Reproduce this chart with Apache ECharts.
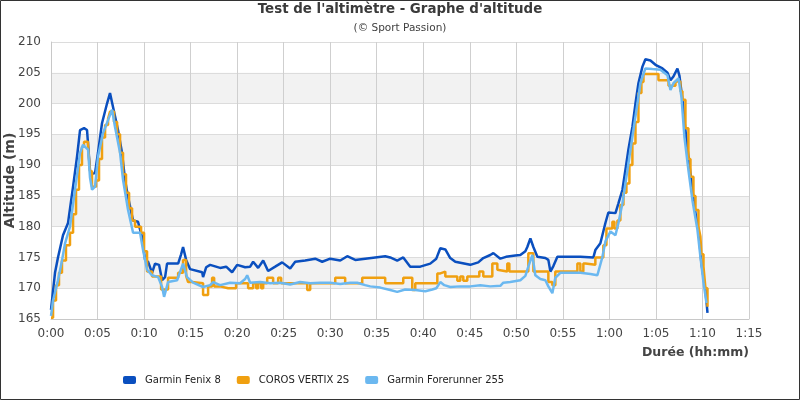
<!DOCTYPE html>
<html><head><meta charset="utf-8">
<script src="https://cdn.jsdelivr.net/npm/echarts@6/dist/echarts.min.js"></script>
<style>html,body{margin:0;padding:0;background:#fff}#c{width:800px;height:400px}</style>
</head><body><div id="c"></div>
<script>
const FONT = "'DejaVu Sans',sans-serif";
const seriesNames = ['Garmin Fenix 8', 'COROS VERTIX 2S', 'Garmin Forerunner 255'];
const seriesColors = ['#0a4fbf', '#f0a010', '#6bb8f0'];

// time in minutes
const fenixT = [0.00,0.43,0.75,1.29,1.83,2.37,2.80,3.12,3.55,3.87,4.19,4.41,4.73,5.05,5.48,6.02,6.34,6.67,7.20,7.63,7.96,8.28,8.82,9.35,9.78,10.11,10.43,10.86,11.18,11.61,11.94,12.26,12.47,13.66,13.98,14.19,14.52,14.95,16.24,16.34,16.67,17.10,18.17,18.82,19.46,20.00,20.86,21.40,21.72,22.26,22.80,23.33,24.09,24.84,25.70,26.24,27.31,28.39,29.14,30.00,31.08,31.83,32.69,33.76,34.84,35.91,36.45,37.20,37.85,38.60,39.68,40.75,41.40,41.83,42.37,42.90,43.44,45.05,45.91,46.45,47.20,47.53,48.28,48.89,49.89,50.43,50.97,51.18,51.51,51.83,52.26,53.12,53.44,53.66,53.98,54.41,55.81,56.88,58.28,58.49,59.03,59.57,59.89,60.65,60.97,61.40,61.72,62.04,62.47,62.80,63.12,63.55,63.87,64.41,64.95,65.70,66.24,66.56,66.88,67.31,67.53,67.85,68.17,68.49,68.92,69.25,69.57,69.89,70.32,70.54];
const fenixV = [166.5,172.5,175,178.6,180.6,186.5,191.4,195.7,196,195.7,189.2,188.6,188.7,192,196.8,200,201.7,199.4,195.7,192,187.6,184.8,181,180.8,178.3,174.6,174.3,172.5,174,173.8,171.3,171.8,174,174,175.5,176.7,174.6,173.1,172.6,171.8,173.4,173.8,173.3,173.5,172.6,173.8,173.4,173.5,174.3,173.3,174.5,172.8,173.5,174.2,173.2,174.3,174.5,174.8,174.3,174.8,174.5,175.2,174.6,174.8,175,175.2,175,174.5,175,173.5,173.5,174,174.8,176.5,176.3,174.9,174.3,173.8,174.2,174.9,175.4,175.7,174.8,175.1,175.3,175.4,176,176.7,178.1,176.7,175.1,174.9,174.6,172.7,173.6,175.1,175.1,175.1,175,176.2,177.3,180.6,182.3,182.2,183.8,186,189.2,192.5,196.2,200,203.3,206,207.2,207,206.3,205.7,205,203.8,204.4,205.7,204.5,200.6,195.7,191.4,186,182.2,179.5,174,169.7,166];

const corosT = [0.00,0.22,0.54,0.86,1.18,1.61,2.04,2.37,2.69,3.01,3.33,3.55,3.98,4.19,4.41,4.84,5.16,5.48,5.81,6.13,6.34,6.77,7.10,7.42,7.74,8.06,8.39,8.71,9.03,9.68,10.00,10.32,10.86,11.83,12.58,13.66,14.19,14.52,14.73,15.16,16.34,16.88,17.31,17.53,18.17,19.03,19.89,21.18,21.72,22.04,22.26,22.58,22.80,23.23,23.87,24.41,24.73,25.70,27.53,27.85,30.54,31.61,33.44,35.91,37.85,38.82,39.14,41.51,41.83,42.37,43.66,43.98,44.30,44.73,46.02,46.45,47.42,47.96,48.06,49.03,49.25,51.29,51.83,53.44,53.87,54.19,56.56,56.88,57.20,57.42,58.49,59.35,59.68,60.32,60.54,60.86,61.18,61.51,61.83,62.15,62.47,62.80,63.12,63.44,63.66,65.27,66.35,67.10,67.63,67.85,68.17,68.49,68.71,69.03,69.25,69.57,69.78,69.89,70.11,70.32,70.54];
const corosV = [165.2,168,170.5,172.5,174.5,177,179,182,186,190,193,193.8,193,189,186.5,187.5,191,194.5,196.5,197.5,198.7,197,195,192,188.5,185.5,183,181,180,179,176,172.7,171.9,169.8,171.7,172.5,174.6,172,171,170.8,168.9,170.3,171.7,170.3,170,170,170.8,170,170.8,170,170.8,170,170.8,171.7,170.8,171.7,170.8,170.8,169.7,170.8,171.7,170.8,171.7,170.8,171.7,169.7,170.8,172.4,172.7,171.9,171.2,171.9,171.2,171.9,172.7,171.9,174,173,172.7,174,172.7,175.7,172.7,171,170.5,172.7,174,172.7,174,173.8,175,177,179.7,180.8,179.7,181,183.5,185.5,187,190,193.5,197,201.7,203.5,204.8,203.8,202.9,203.6,202,200.6,196,191,188.1,185,182.7,180,178.4,175.5,173.5,170,167];

const foreT = [0.00,0.22,0.75,1.18,1.51,2.04,2.58,3.12,3.44,3.98,4.19,4.41,4.73,5.05,5.59,6.13,6.56,6.88,7.42,7.74,8.28,8.82,9.57,9.89,10.32,10.86,11.51,11.94,12.15,12.58,13.55,14.19,14.62,15.27,16.34,17.10,17.42,18.17,19.25,20.32,20.86,21.08,21.40,22.47,23.55,24.62,25.70,26.77,27.85,28.92,30.00,31.08,32.15,32.90,33.76,34.30,35.38,36.45,37.20,38.06,39.14,40.22,40.97,41.40,41.83,42.26,42.90,43.98,45.05,46.13,47.20,48.28,48.60,49.35,50.43,50.97,51.29,51.72,52.04,52.58,53.12,53.44,53.87,54.19,54.73,55.81,56.88,57.96,58.71,59.25,59.57,60.11,60.65,60.97,61.40,61.94,62.47,63.01,63.33,63.87,64.62,65.48,66.24,66.56,66.88,67.42,67.74,68.06,68.49,68.92,69.46,69.78,70.11,70.43];
const foreV = [165.5,168,171.3,174.5,177.3,180,186,192,193.3,192.5,188,186,186.5,191.4,195.2,197.3,199,196.2,192,187.6,182.7,179,179,176.2,173,172.1,171.8,170.2,168.6,171,171.3,174,171.8,170.9,170.2,170.5,171,170.5,170.9,170.8,171.5,172.1,170.9,171,170.8,170.9,170.6,171,170.8,170.9,170.9,170.7,170.9,170.9,170.5,170.3,170.1,169.7,169.4,169.8,169.7,169.5,169.8,170,171,170.5,170.2,170.3,170.3,170.5,170.3,170.4,170.9,171,171.3,172,173.5,175.4,172.1,171.5,171.3,170.3,169.2,171.7,172.5,172.5,172.5,172.3,172.1,175.1,177.6,179.2,178.6,180.6,183.8,189.2,194.6,200,203.3,205.7,205.6,205.5,204.6,202.2,203.3,204.1,201.1,194.6,189.2,184.3,179.5,175.1,170.9,167.6];

const zip = (t, v) => t.map((x, i) => [x, v[i]]);
const fmtTime = v => Math.floor(v / 60) + ':' + String(Math.round(v % 60)).padStart(2, '0');

const chart = echarts.init(document.getElementById('c'), null, {renderer: 'canvas'});
chart.setOption({
  animation: false,
  backgroundColor: '#fff',
  textStyle: {fontFamily: FONT},
  title: {
    text: "Test de l'altimètre - Graphe d'altitude",
    subtext: '(© Sport Passion)',
    left: 'center', top: 3, itemGap: 7, padding: 0,
    textStyle: {fontFamily: FONT, fontSize: 13.4, fontWeight: 'bold', color: '#3a3a3a'},
    subtextStyle: {fontFamily: FONT, fontSize: 10.5, color: '#404040'}
  },
  graphic: [{type: 'rect', silent: true, z: 100, shape: {x: 0.5, y: 0.5, width: 799, height: 399}, style: {fill: 'none', stroke: '#333', lineWidth: 1}}],
  legend: {
    left: 123, top: 375, padding: 0, itemGap: 16, itemWidth: 13, itemHeight: 8, icon: 'roundRect',
    textStyle: {fontFamily: FONT, fontSize: 10, color: '#222', padding: [0, 0, 0, 4]},
    data: seriesNames
  },
  grid: {left: 51, right: 51, top: 42, bottom: 81, containLabel: false, outerBoundsMode: 'none'},
  xAxis: {
    type: 'value', min: 0, max: 75, interval: 5,
    name: 'Durée (hh:mm)', nameLocation: 'end', nameGap: 0, nameMoveOverlap: false,
    nameTextStyle: {fontFamily: FONT, fontSize: 12.5, fontWeight: 'bold', color: '#444', align: 'right', verticalAlign: 'top', padding: [27, 0, 0, 0]},
    axisLine: {lineStyle: {color: '#c8c8c8'}},
    axisTick: {show: false},
    axisLabel: {formatter: fmtTime, fontFamily: FONT, fontSize: 12, color: '#444', margin: 9},
    splitLine: {show: true, lineStyle: {color: '#cfcfcf'}}
  },
  yAxis: {
    type: 'value', min: 165, max: 210, interval: 5,
    name: 'Altitude (m)', nameLocation: 'middle', nameGap: 34, nameRotate: 90, nameMoveOverlap: false,
    nameTextStyle: {fontFamily: FONT, fontSize: 14, fontWeight: 'bold', color: '#444'},
    axisLine: {show: true, lineStyle: {color: '#c8c8c8'}},
    axisTick: {show: false},
    axisLabel: {fontFamily: FONT, fontSize: 12, color: '#444', margin: 10},
    splitLine: {show: true, lineStyle: {color: '#dcdcdc'}},
    splitArea: {show: true, areaStyle: {color: ['rgba(255,255,255,0)', '#f2f2f2']}}
  },
  series: [
    {name: seriesNames[0], type: 'line', data: zip(fenixT, fenixV), showSymbol: false, color: seriesColors[0], lineStyle: {width: 2.5, color: seriesColors[0]}},
    {name: seriesNames[1], type: 'line', step: 'end', data: zip(corosT, corosV), showSymbol: false, color: seriesColors[1], lineStyle: {width: 2.5, color: seriesColors[1]}},
    {name: seriesNames[2], type: 'line', data: zip(foreT, foreV), showSymbol: false, color: seriesColors[2], lineStyle: {width: 2.5, color: seriesColors[2]}}
  ]
});
</script>
</body></html>
